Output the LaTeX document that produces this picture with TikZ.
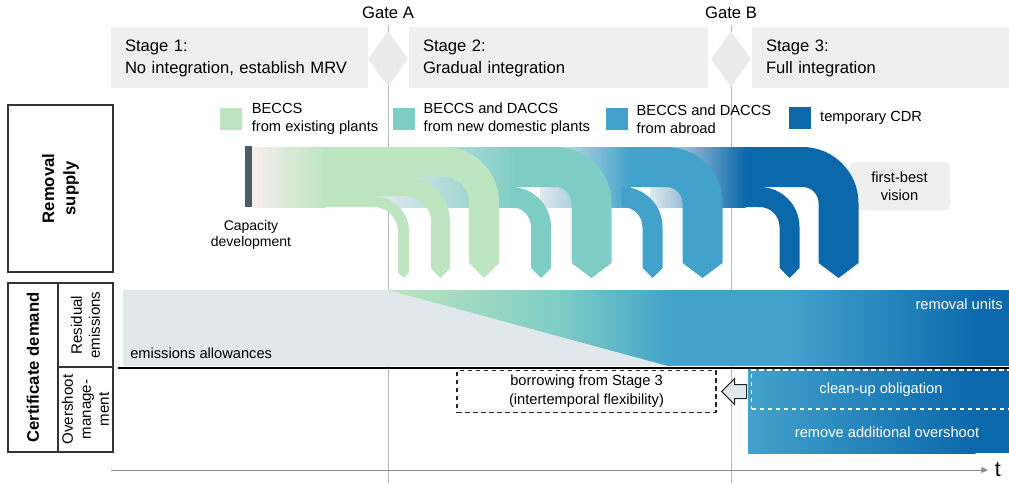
\documentclass[tikz,border=0pt]{standalone}
\usepackage{fontspec}
\setmainfont{Liberation Sans}
\usetikzlibrary{positioning,shapes.geometric,arrows.meta}

\definecolor{beccsgreen}{HTML}{BCE5C0}
\definecolor{daccsteal}{HTML}{7ECDC4}
\definecolor{abroadblue}{HTML}{43A2CB}
\definecolor{cdrblue}{HTML}{0A68AB}
\definecolor{residgray}{HTML}{E1E8EC}
\definecolor{stagegray}{HTML}{EFEFEF}
\definecolor{diamondgray}{HTML}{EBEBEB}
\definecolor{fadegray}{HTML}{E2E9EE}
\definecolor{fadepink}{HTML}{F8EEEE}
\definecolor{gateline}{HTML}{B8B8B8}
\definecolor{axisgray}{HTML}{8C8C8C}
\definecolor{capbar}{HTML}{4F5B62}

% banda: centro x, centro y, ancho, radio, punta, color
\newcommand{\supplyband}[6]{%
  \fill[#6] ({#1-#4-1},{#2+#3/2}) -- ({#1-#4},{#2+#3/2})
    arc[start angle=90,end angle=0,radius={#4+#3/2}]
    -- ({#1+#3/2},{205+#5}) -- (#1,205) -- ({#1-#3/2},{205+#5})
    -- ({#1-#3/2},{#2-#4})
    arc[start angle=0,end angle=90,radius={#4-#3/2}]
    -- ({#1-#4-1},{#2-#3/2}) -- cycle;}

\begin{document}
\begin{tikzpicture}[x=0.75pt,y=0.75pt,
    stagebox/.style={fill=stagegray, minimum height=45.75pt, inner xsep=10.5pt,
      align=left, font=\fontsize{12.45}{16.5}\selectfont},
    gatediamond/.style={diamond, fill=diamondgray, minimum width=30pt,
      minimum height=42pt, inner sep=0pt},
    gatelabel/.style={font=\fontsize{12.5}{15}\selectfont},
    headbox/.style={draw=black!80, line width=0.9pt, inner sep=0pt, align=center,
      font=\bfseries\fontsize{12.5}{16}\selectfont},
    subhead/.style={draw=black!80, line width=0.9pt, inner sep=0pt, align=center,
      font=\fontsize{11.3}{13.5}\selectfont},
    legendsq/.style={minimum size=16.5pt, inner sep=0pt},
    legendtext/.style={inner sep=0pt, align=left, font=\fontsize{11}{13.5}\selectfont},
    plaintext/.style={inner sep=0pt, font=\fontsize{11}{13.5}\selectfont},
    whitetext/.style={plaintext, text=white},
    visionbox/.style={fill=stagegray, rounded corners=4.5pt, minimum width=75.75pt,
      minimum height=36pt, align=center, font=\fontsize{11}{13.5}\selectfont},
    borrowbox/.style={draw=black!85, line width=0.9pt, dash pattern=on 3.5pt off 2.5pt,
      minimum width=194.25pt, minimum height=29.25pt, align=center,
      font=\fontsize{11}{14}\selectfont},
    cleanbox/.style={borrowbox, draw=white, text=white, minimum width=194pt}]

    \useasboundingbox (0,0) rectangle (1009,483);

    % Lineas de las puertas
    \draw[gateline, line width=0.75pt] (388,458) -- (388,0);
    \draw[gateline, line width=0.75pt] (731,458) -- (731,0);

    % Etapas
    \node[stagebox, text width=171.75pt] (stageone) at (239.5,425) {Stage 1:\\No integration, establish MRV};
    \node[stagebox, text width=203.25pt] (stagetwo) at (558.5,425) {Stage 2:\\Gradual integration};
    \node[stagebox, text width=171.75pt] (stagethree) at (880.5,425) {Stage 3:\\Full integration};
    \node[gatediamond] (gatea) at (388,424) {};
    \node[gatediamond] (gateb) at (731,424) {};
    \node[gatelabel] (gatealbl) at (388,470) {Gate A};
    \node[gatelabel] (gateblbl) at (731,470) {Gate B};

    % Cabeceras
    \node[headbox, rotate=90, minimum width=125.25pt, minimum height=78.75pt] (supplyhead) at (60.5,294.5) {Removal\\supply};
    \node[headbox, rotate=90, minimum width=126.75pt, minimum height=37.5pt] (certhead) at (33,115.5) {Certificate demand};
    \node[subhead, rotate=90, minimum width=63pt, minimum height=41.25pt] (residhead) at (85.5,158) {Residual\\emissions};
    \node[subhead, rotate=90, minimum width=63.75pt, minimum height=41.25pt] (overhead) at (85.5,73.5) {Overshoot\\manage-\\ment};

    % Leyenda
    \node[legendsq, fill=beccsgreen] (greensq) at (231,364) {};
    \node[legendtext, right=7pt of greensq] (greentxt) {BECCS\\from existing plants};
    \node[legendsq, fill=daccsteal] (tealsq) at (403.5,364) {};
    \node[legendtext, right=6.5pt of tealsq] (tealtxt) {BECCS and DACCS\\from new domestic plants};
    \node[legendsq, fill=abroadblue] (bluesq) at (616.5,364) {};
    \node[legendtext, right=6.5pt of bluesq] (bluetxt) {BECCS and DACCS\\from abroad};
    \node[legendsq, fill=cdrblue] (cdrsq) at (800,365) {};
    \node[legendtext, right=6.5pt of cdrsq] (cdrtxt) {temporary CDR};

    \node[visionbox] (vision) at (899.5,297) {first-best\\vision};

    % Tronco
    \fill[cdrblue] (745,336) -- (802.5,336) -- (802.5,296) -- (759.5,296) -- (759.5,276) -- (745,276) -- cycle;
    \shade[left color=fadegray, right color=cdrblue] (650,276) rectangle (745.5,336);
    \fill[abroadblue] (630,336) -- (666.5,336) -- (666.5,296) -- (622.5,296) -- (622.5,276) -- (630,276) -- cycle;
    \shade[left color=fadegray, right color=abroadblue] (540,276) rectangle (630.5,336);
    \fill[daccsteal] (515,336) -- (555.5,336) -- (555.5,296) -- (511,296) -- (511,276) -- (515,276) -- cycle;
    \shade[left color=fadegray, right color=daccsteal] (380,276) rectangle (515.5,336);
    \fill[beccsgreen] (325,336) -- (444,336) -- (444,306) -- (405.5,306) -- (405.5,287) -- (373.5,287) -- (373.5,276) -- (325,276) -- cycle;
    \shade[left color=fadepink, right color=beccsgreen] (252,276) rectangle (325.5,336);
    \fill[capbar] (245,276) rectangle (252,337);
    \node[inner sep=0pt, align=center, font=\fontsize{10.5}{12}\selectfont] (capacity) at (251,248) {Capacity\\development};

    % Bandas
    \supplyband{838.5}{316}{40}{36}{15}{cdrblue}
    \supplyband{789.5}{286}{20}{30}{10}{cdrblue}
    \supplyband{702.5}{316}{40}{36}{15}{abroadblue}
    \supplyband{652.5}{286}{20}{30}{10}{abroadblue}
    \supplyband{591.5}{316}{40}{36}{15}{daccsteal}
    \supplyband{541}{286}{20}{30}{10}{daccsteal}
    \supplyband{484}{321}{30}{40}{15}{beccsgreen}
    \supplyband{440.5}{296.5}{19}{35}{9.5}{beccsgreen}
    \supplyband{403.5}{281.5}{11}{30}{5.5}{beccsgreen}

    % Demanda
    \fill[residgray] (123,117) rectangle (668,193);
    \begin{scope}
      \clip (388,193) -- (1009,193) -- (1009,117) -- (668,117) -- cycle;
      \shade[left color=beccsgreen, right color=daccsteal] (388,117) rectangle (560.5,193);
      \shade[left color=daccsteal, right color=abroadblue] (560,117) rectangle (670.5,193);
      \fill[abroadblue] (670,117) rectangle (790.5,193);
      \shade[left color=abroadblue, right color=cdrblue] (790,117) rectangle (985.5,193);
      \fill[cdrblue] (985,117) rectangle (1009,193);
    \end{scope}
    \shade[left color=abroadblue, right color=cdrblue] (748,30) rectangle (975.5,115);
    \fill[cdrblue] (975,30) rectangle (1009,115);
    \draw[black, line width=1.5pt] (118,115.5) -- (1009,115.5);

    \node[plaintext, anchor=west] (allowances) at (130,130) {emissions allowances};
    \node[whitetext, anchor=east] (removalunits) at (1003,179) {removal units};
    \node[cleanbox] (cleanup) at (881,93.5) {clean-up obligation};
    \node[whitetext] (additional) at (887,51) {remove additional overshoot};
    \node[borrowbox] (borrow) at (586.5,91.5) {borrowing from Stage 3\\(intertemporal flexibility)};
    \draw[black!85, fill=residgray, line width=0.75pt] ([xshift=3.75pt]borrow.east) -- ++(13,13) -- ++(0,-6)
      -- ++(12,0) -- ++(0,-14) -- ++(-12,0) -- ++(0,-6) -- cycle;

    % Eje
    \coordinate (tstart) at (111,13);
    \coordinate (tend) at (988,13);
    \draw[axisgray, line width=0.75pt, -{Triangle[length=5pt,width=4.5pt]}] (tstart) -- (tend);
    \node[inner sep=0pt, right=5pt of tend, font=\fontsize{16}{18}\selectfont] (tlabel) {t};
\end{tikzpicture}
\end{document}
